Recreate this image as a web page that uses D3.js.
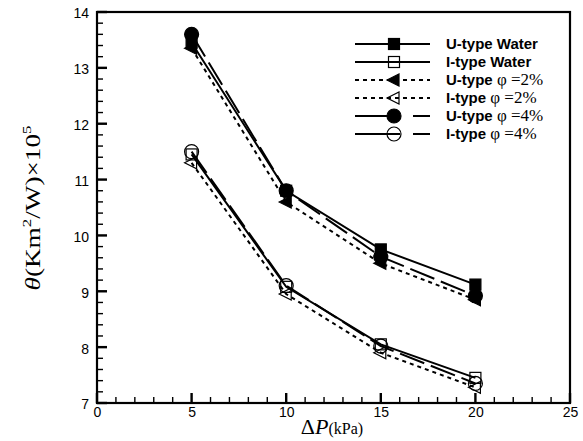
<!DOCTYPE html>
<html>
<head>
<meta charset="utf-8">
<script src="https://cdn.jsdelivr.net/npm/d3@7"></script>
<style>
  body { margin: 0; background: #fff; }
</style>
</head>
<body>
<div id="chart"></div>
<script>
// data
var pressure = [5, 10, 15, 20];
var uWater = [13.45, 10.8, 9.75, 9.12];
var iWater = [11.45, 9.08, 8.05, 7.45];
var u2 = [13.35, 10.6, 9.5, 8.85];
var i2 = [11.3, 8.95, 7.9, 7.28];
var u4 = [13.6, 10.8, 9.62, 8.92];
var i4 = [11.5, 9.1, 8.02, 7.35];
var xTicks = [0, 5, 10, 15, 20, 25];
var yTicks = [7, 8, 9, 10, 11, 12, 13, 14];

var series = [
  {name: "U-type", extra: " Water", vals: uWater, marker: "square", fill: "#000", dash: null},
  {name: "I-type", extra: " Water", vals: iWater, marker: "square", fill: "none", dash: null},
  {name: "U-type", extra: " \u03c6 =2%", vals: u2, marker: "tri", fill: "#000", dash: "4,4"},
  {name: "I-type", extra: " \u03c6 =2%", vals: i2, marker: "tri", fill: "none", dash: "4,4"},
  {name: "U-type", extra: " \u03c6 =4%", vals: u4, marker: "circle", fill: "#000", dash: "26,7"},
  {name: "I-type", extra: " \u03c6 =4%", vals: i4, marker: "circle", fill: "none", dash: "26,7"}
];

var svgWidth = 583;
var svgHeight = 441;
var margin = {top: 12, right: 13, bottom: 38, left: 97};
var width = svgWidth - margin.left - margin.right;
var height = svgHeight - margin.top - margin.bottom;

var svg = d3.select("#chart").append("svg")
  .attr("width", svgWidth)
  .attr("height", svgHeight);

var g = svg.append("g")
  .attr("transform", `translate(${margin.left}, ${margin.top})`);

var x = d3.scaleLinear().domain([0, 25]).range([0, width]);
var y = d3.scaleLinear().domain([7, 14]).range([height, 0]);

// tick labels from the axes
var xAxis = d3.axisBottom(x).tickValues(xTicks).tickSize(0).tickPadding(4).tickFormat(d3.format("d"));
var yAxis = d3.axisLeft(y).tickValues(yTicks).tickSize(0).tickPadding(8).tickFormat(d3.format("d"));
g.append("g").attr("class", "xa").attr("transform", `translate(0, ${height})`).call(xAxis);
g.append("g").attr("class", "ya").call(yAxis);
g.selectAll(".domain").remove();
g.selectAll(".tick text")
  .attr("fill", "#000")
  .attr("font-family", "Liberation Sans, Arial, sans-serif")
  .attr("font-size", 14);
g.selectAll(".ya .tick text").attr("dy", "0.42em");

// inward ticks, positions from the scales
var xMinor = d3.range(0, 26, 1);
var yMinor = d3.range(0, 36).map(i => 7 + i * 0.2);

g.append("g").selectAll("rect")
  .data(xMinor)
  .enter()
  .append("rect")
  .attr("x", d => x(d) - (d % 5 === 0 ? 1.2 : 0.7))
  .attr("width", d => d % 5 === 0 ? 2.4 : 1.4)
  .attr("y", d => height - (d % 5 === 0 ? 10 : 6))
  .attr("height", d => d % 5 === 0 ? 10 : 6)
  .attr("fill", "#000");

g.append("g").selectAll("rect")
  .data(yMinor)
  .enter()
  .append("rect")
  .attr("y", (d, i) => y(d) - (i % 5 === 0 ? 1.2 : 0.7))
  .attr("height", (d, i) => i % 5 === 0 ? 2.4 : 1.4)
  .attr("x", 0)
  .attr("width", (d, i) => i % 5 === 0 ? 10 : 6)
  .attr("fill", "#000");

// frame
g.append("rect")
  .attr("width", width)
  .attr("height", height)
  .attr("fill", "none")
  .attr("stroke", "#000")
  .attr("stroke-width", 2.2);

function drawMarker(sel, type, fill, cx, cy) {
  if (type === "square") {
    sel.append("rect")
      .attr("x", cx - 5.5).attr("y", cy - 5.5)
      .attr("width", 11).attr("height", 11)
      .attr("fill", fill).attr("stroke", "#000").attr("stroke-width", 1.2);
  } else if (type === "tri") {
    sel.append("path")
      .attr("d", `M${cx - 7},${cy} L${cx + 5},${cy - 6} L${cx + 5},${cy + 6} Z`)
      .attr("fill", fill).attr("stroke", "#000").attr("stroke-width", 1.2);
  } else {
    sel.append("circle")
      .attr("cx", cx).attr("cy", cy).attr("r", 7)
      .attr("fill", fill).attr("stroke", "#000").attr("stroke-width", 1.2);
  }
}

var line = d3.line()
  .x((d, i) => x(pressure[i]))
  .y(d => y(d));

series.forEach(function(s) {
  g.append("path")
    .datum(s.vals)
    .attr("d", line)
    .attr("fill", "none")
    .attr("stroke", "#000")
    .attr("stroke-width", 2)
    .attr("stroke-dasharray", s.dash);
  s.vals.forEach(function(v, i) {
    drawMarker(g, s.marker, s.fill, x(pressure[i]), y(v));
  });
});

// legend
var legend = svg.append("g").attr("transform", "translate(355, 44)");
series.forEach(function(s, i) {
  var row = legend.append("g").attr("transform", `translate(0, ${i * 18})`);
  if (s.marker === "circle") {
    row.append("path").attr("d", "M0,0H45M58,0H75")
      .attr("stroke", "#000").attr("stroke-width", 2);
  } else {
    row.append("path").attr("d", "M0,0H75")
      .attr("stroke", "#000").attr("stroke-width", 2)
      .attr("stroke-dasharray", s.dash ? "4,4" : null);
  }
  drawMarker(row, s.marker, s.fill, 39, 0);
  var t = row.append("text")
    .attr("x", 91).attr("y", 5)
    .attr("font-family", "Liberation Sans, Arial, sans-serif")
    .attr("font-weight", "bold")
    .attr("font-size", 15)
    .text(s.name);
  if (s.extra === " Water") {
    t.text(s.name + s.extra);
  } else {
    t.append("tspan")
      .attr("font-family", "Liberation Serif, Times New Roman, serif")
      .attr("font-weight", "normal")
      .attr("font-size", 17)
      .text(s.extra);
  }
});

// axis titles
svg.append("text")
  .attr("transform", "translate(40, 208) rotate(-90)")
  .attr("text-anchor", "middle")
  .attr("font-family", "Liberation Serif, Times New Roman, serif")
  .attr("font-size", 21)
  .attr("textLength", 165)
  .attr("lengthAdjust", "spacingAndGlyphs")
  .html('<tspan font-style="italic">\u03b8</tspan>(Km<tspan font-size="13" dy="-9">2</tspan><tspan dy="9">/W)\u00d710</tspan><tspan font-size="13" dy="-9">5</tspan>');

svg.append("text")
  .attr("x", 332).attr("y", 434)
  .attr("text-anchor", "middle")
  .attr("font-family", "Liberation Serif, Times New Roman, serif")
  .attr("font-size", 22)
  .html('\u0394<tspan font-style="italic">P</tspan><tspan font-size="16">(kPa)</tspan>');
</script>
</body>
</html>
